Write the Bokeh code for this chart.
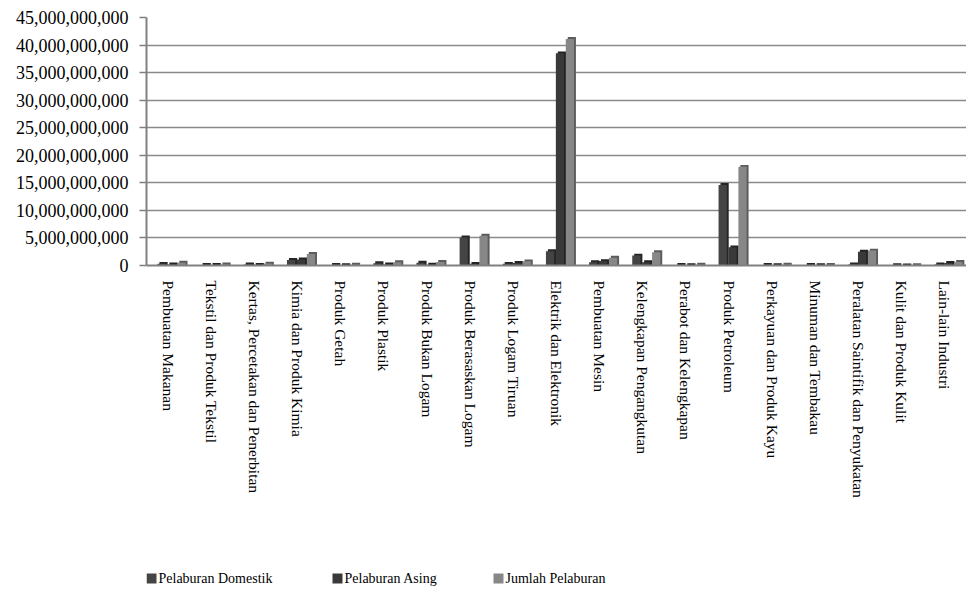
from bokeh.plotting import figure
from bokeh.layouts import column
from bokeh.models import (FactorRange, Range1d, FixedTicker, NumeralTickFormatter,
                          ColumnDataSource)
from bokeh.core.properties import value
from bokeh.transform import dodge
from bokeh.embed import file_html
from bokeh.resources import INLINE

# ---- data (values in billions) ----
categories = [
    "Pembuatan Makanan", "Tekstil dan Produk Tekstil", "Kertas, Percetakan dan Penerbitan",
    "Kimia dan Produk Kimia", "Produk Getah", "Produk Plastik", "Produk Bukan Logam",
    "Produk Berasaskan Logam", "Produk Logam Tiruan", "Elektrik dan Elektronik",
    "Pembuatan Mesin", "Kelengkapan Pengangkutan", "Perabot dan Kelengkapan",
    "Produk Petroleum", "Perkayuan dan Produk Kayu", "Minuman dan Tembakau",
    "Peralatan Saintifik dan Penyukatan", "Kulit dan Produk Kulit", "Lain-lain Industri",
]
pelaburan_domestik = [0.30, 0.10, 0.20, 1.00, 0.10, 0.40, 0.50, 5.10, 0.30, 2.60,
                      0.60, 1.80, 0.10, 14.60, 0.10, 0.10, 0.20, 0.05, 0.20]
pelaburan_asing = [0.20, 0.10, 0.12, 1.10, 0.05, 0.20, 0.15, 0.30, 0.45, 38.50,
                   0.80, 0.60, 0.05, 3.30, 0.05, 0.05, 2.50, 0.02, 0.45]
jumlah_pelaburan = [0.50, 0.20, 0.35, 2.10, 0.15, 0.60, 0.65, 5.40, 0.75, 41.10,
                    1.40, 2.40, 0.15, 17.90, 0.15, 0.10, 2.70, 0.07, 0.65]
series_names = ["Pelaburan Domestik", "Pelaburan Asing", "Jumlah Pelaburan"]
y_ticks = [0, 5e9, 10e9, 15e9, 20e9, 25e9, 30e9, 35e9, 40e9, 45e9]

SCALE = 1e9
DEPTH = 0.35e9  # visual 3D depth in data units

series = [pelaburan_domestik, pelaburan_asing, jumlah_pelaburan]
data = dict(cat=categories)
for i, s in enumerate(series):
    data[f"v{i}"] = [v * SCALE for v in s]
    data[f"b{i}"] = [v * SCALE + DEPTH for v in s]
src = ColumnDataSource(data)

FONT = "Liberation Serif"
W = 966
LEFT = 146

p = figure(width=W, height=500, x_range=FactorRange(*categories),
           y_range=Range1d(0, 45e9), output_backend="svg", toolbar_location=None,
           min_border_left=LEFT, min_border_top=17, min_border_right=0,
           min_border_bottom=234)
p.outline_line_color = None
p.background_fill_color = "white"

front_colors = ["#444444", "#393939", "#878787"]
back_colors = ["#262626", "#222222", "#5c5c5c"]
offsets = [-0.15, 0.08, 0.31]
for i in range(3):
    p.vbar(x=dodge("cat", offsets[i] + 0.045, range=p.x_range), top=f"b{i}", bottom=0,
           width=0.19, source=src, fill_color=back_colors[i], line_color=None)
    p.vbar(x=dodge("cat", offsets[i], range=p.x_range), top=f"v{i}", bottom=0,
           width=0.19, source=src, fill_color=front_colors[i], line_color=None)

# axes
p.yaxis.ticker = FixedTicker(ticks=y_ticks)
p.yaxis.formatter = NumeralTickFormatter(format="0,0")
p.yaxis.major_label_text_font = FONT
p.yaxis.major_label_text_font_size = "18px"
p.yaxis.major_label_text_color = "black"
p.yaxis.axis_line_color = "#808080"
p.yaxis.axis_line_width = 2
p.yaxis.major_tick_line_color = "#808080"
p.yaxis.major_tick_line_width = 1.5
p.yaxis.major_tick_out = 7
p.yaxis.major_tick_in = 0
p.yaxis.minor_tick_line_color = None
p.yaxis.major_label_standoff = 11

p.xaxis.major_label_orientation = "vertical"
p.xaxis.major_label_text_font = FONT
p.xaxis.major_label_text_font_size = "15.5px"
p.xaxis.major_label_text_color = "black"
p.xaxis.axis_line_color = "#808080"
p.xaxis.axis_line_width = 2
p.xaxis.major_tick_line_color = None
p.xaxis.major_label_standoff = 9

p.xgrid.grid_line_color = None
p.ygrid.grid_line_color = "#8a8a8a"
p.ygrid.grid_line_width = 1.5

# ---- legend strip (pixel-unit ranges, frame aligned with the plot frame) ----
LG_H = 96
lg_fig = figure(width=W, height=LG_H, x_range=Range1d(0, W - LEFT), y_range=Range1d(0, LG_H),
                output_backend="svg", toolbar_location=None,
                x_axis_location=None, y_axis_location=None,
                min_border_left=LEFT, min_border_right=0, min_border_top=0,
                min_border_bottom=0)
lg_fig.outline_line_color = None
lg_fig.xgrid.grid_line_color = None
lg_fig.ygrid.grid_line_color = None

legend_x = [0, 186, 347]      # swatch left edges (px from frame left)
legend_y = 18                 # swatch centre (px from strip bottom)
lg_src = ColumnDataSource(dict(
    sx=[x + 5 for x in legend_x], tx=[x + 12 for x in legend_x],
    y=[legend_y] * 3, color=front_colors, label=series_names))
lg_fig.rect(x="sx", y="y", width=10, height=10, source=lg_src,
            fill_color="color", line_color=None)
lg_fig.text(x="tx", y="y", text="label", source=lg_src, text_baseline="middle",
            text_align="left", text_font=value(FONT), text_font_size="14px",
            text_color="black")

layout = column(p, lg_fig, spacing=0)
open("out.html", "w").write(file_html(layout, INLINE))
